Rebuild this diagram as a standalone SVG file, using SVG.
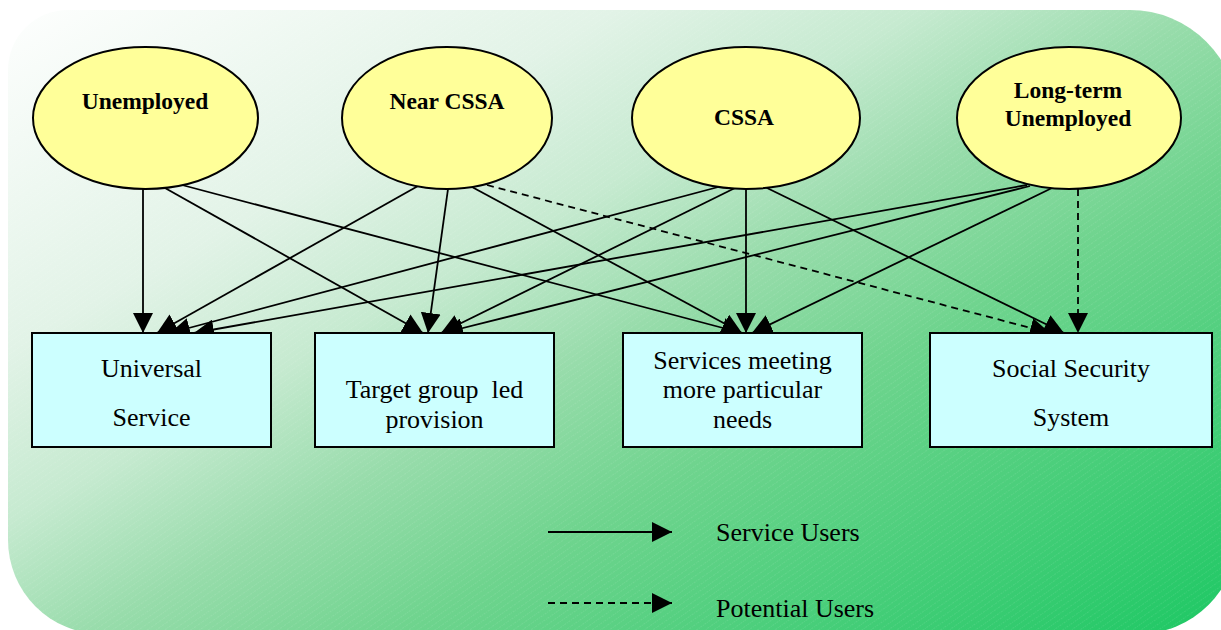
<svg xmlns="http://www.w3.org/2000/svg" width="1221" height="630" viewBox="0 0 1221 630">
  <defs>
    <linearGradient id="bg" gradientUnits="userSpaceOnUse" x1="0" y1="0" x2="559" y2="1000">
      <stop offset="0" stop-color="#ffffff"/>
      <stop offset="0.27" stop-color="#e2f3e7"/>
      <stop offset="0.4" stop-color="#c6ead0"/>
      <stop offset="0.52" stop-color="#98dcab"/>
      <stop offset="0.65" stop-color="#6fd48e"/>
      <stop offset="1" stop-color="#1ec864"/>
    </linearGradient>
    <pattern id="hatch" patternUnits="userSpaceOnUse" width="5" height="5" patternTransform="rotate(-35)">
      <line x1="0" y1="0" x2="5" y2="0" stroke="#ffffff" stroke-width="1" stroke-dasharray="1 1"/>
    </pattern>
    <marker id="ah" markerUnits="userSpaceOnUse" markerWidth="20" markerHeight="20" refX="20" refY="10" orient="auto">
      <path d="M0,0 L20,10 L0,20 Z" fill="#000"/>
    </marker>
  </defs>
  <style>
    .ell { fill: #ffff99; stroke: #000; stroke-width: 2; }
    .box { fill: #ccffff; stroke: #000; stroke-width: 2; }
    .et { font-family: "Liberation Serif", "Times New Roman", serif; font-weight: bold; font-size: 23.5px; text-anchor: middle; fill: #000; }
    .bt { font-family: "Liberation Serif", "Times New Roman", serif; font-size: 26px; text-anchor: middle; fill: #000; }
    .lt { font-family: "Liberation Serif", "Times New Roman", serif; font-size: 26px; fill: #000; }
    .c { fill: none; stroke: #000; stroke-width: 1.8; marker-end: url(#ah); }
    .d { stroke-dasharray: 7 5; }
  </style>

  <g id="background">
    <path d="M68,10 H1130 A108,108 0 0 1 1238,118 V534 A100,100 0 0 1 1138,634 H102 A94,94 0 0 1 8,540 V70 A60,60 0 0 1 68,10 Z" fill="url(#bg)"/>
    <path d="M68,10 H1130 A108,108 0 0 1 1238,118 V534 A100,100 0 0 1 1138,634 H102 A94,94 0 0 1 8,540 V70 A60,60 0 0 1 68,10 Z" fill="url(#hatch)" opacity="0.18"/>
  </g>

  <g id="connectors">
    <line class="c" x1="143" y1="189" x2="143" y2="333"/>
    <line class="c" x1="165" y1="188" x2="423" y2="333"/>
    <line class="c" x1="182" y1="185" x2="742" y2="333"/>
    <line class="c" x1="418" y1="186" x2="157" y2="333"/>
    <line class="c" x1="448" y1="189" x2="428" y2="333"/>
    <line class="c" x1="472" y1="187" x2="742" y2="333"/>
    <line class="c d" x1="487" y1="185" x2="1050" y2="333"/>
    <line class="c" x1="722" y1="186" x2="170" y2="333"/>
    <line class="c" x1="735" y1="188" x2="441" y2="333"/>
    <line class="c" x1="746" y1="189" x2="746" y2="333"/>
    <line class="c" x1="765" y1="187" x2="1064" y2="333"/>
    <line class="c" x1="1027" y1="185" x2="194" y2="333"/>
    <line class="c" x1="1030" y1="186" x2="443" y2="333"/>
    <line class="c" x1="1052" y1="188" x2="752" y2="333"/>
    <line class="c d" x1="1078" y1="189" x2="1078" y2="333"/>
  </g>

  <g id="node-unemployed">
    <ellipse class="ell" cx="145.5" cy="118" rx="112.5" ry="71"/>
    <text class="et" x="145" y="109">Unemployed</text>
  </g>
  <g id="node-near-cssa">
    <ellipse class="ell" cx="447" cy="118" rx="105" ry="71"/>
    <text class="et" x="447" y="109">Near CSSA</text>
  </g>
  <g id="node-cssa">
    <ellipse class="ell" cx="746" cy="118" rx="114" ry="71"/>
    <text class="et" x="744" y="125">CSSA</text>
  </g>
  <g id="node-long-term">
    <ellipse class="ell" cx="1069" cy="118" rx="112" ry="71"/>
    <text class="et" x="1068" y="98">Long-term</text>
    <text class="et" x="1068" y="126">Unemployed</text>
  </g>

  <g id="node-universal">
    <rect class="box" x="32" y="333" width="239" height="114"/>
    <text class="bt" x="151.5" y="377">Universal</text>
    <text class="bt" x="151.5" y="426">Service</text>
  </g>
  <g id="node-target">
    <rect class="box" x="315" y="333" width="239" height="114"/>
    <text class="bt" x="434.5" y="398" xml:space="preserve">Target group  led</text>
    <text class="bt" x="434.5" y="428">provision</text>
  </g>
  <g id="node-services">
    <rect class="box" x="623" y="333" width="239" height="114"/>
    <text class="bt" x="742.5" y="369">Services meeting</text>
    <text class="bt" x="742.5" y="398">more particular</text>
    <text class="bt" x="742.5" y="428">needs</text>
  </g>
  <g id="node-social">
    <rect class="box" x="930" y="333" width="282" height="114"/>
    <text class="bt" x="1071" y="377">Social Security</text>
    <text class="bt" x="1071" y="426">System</text>
  </g>

  <g id="legend">
    <line class="c" x1="548" y1="532" x2="672" y2="532"/>
    <text class="lt" x="716" y="541">Service Users</text>
    <line class="c d" x1="548" y1="603" x2="672" y2="603"/>
    <text class="lt" x="716" y="617">Potential Users</text>
  </g>
</svg>
